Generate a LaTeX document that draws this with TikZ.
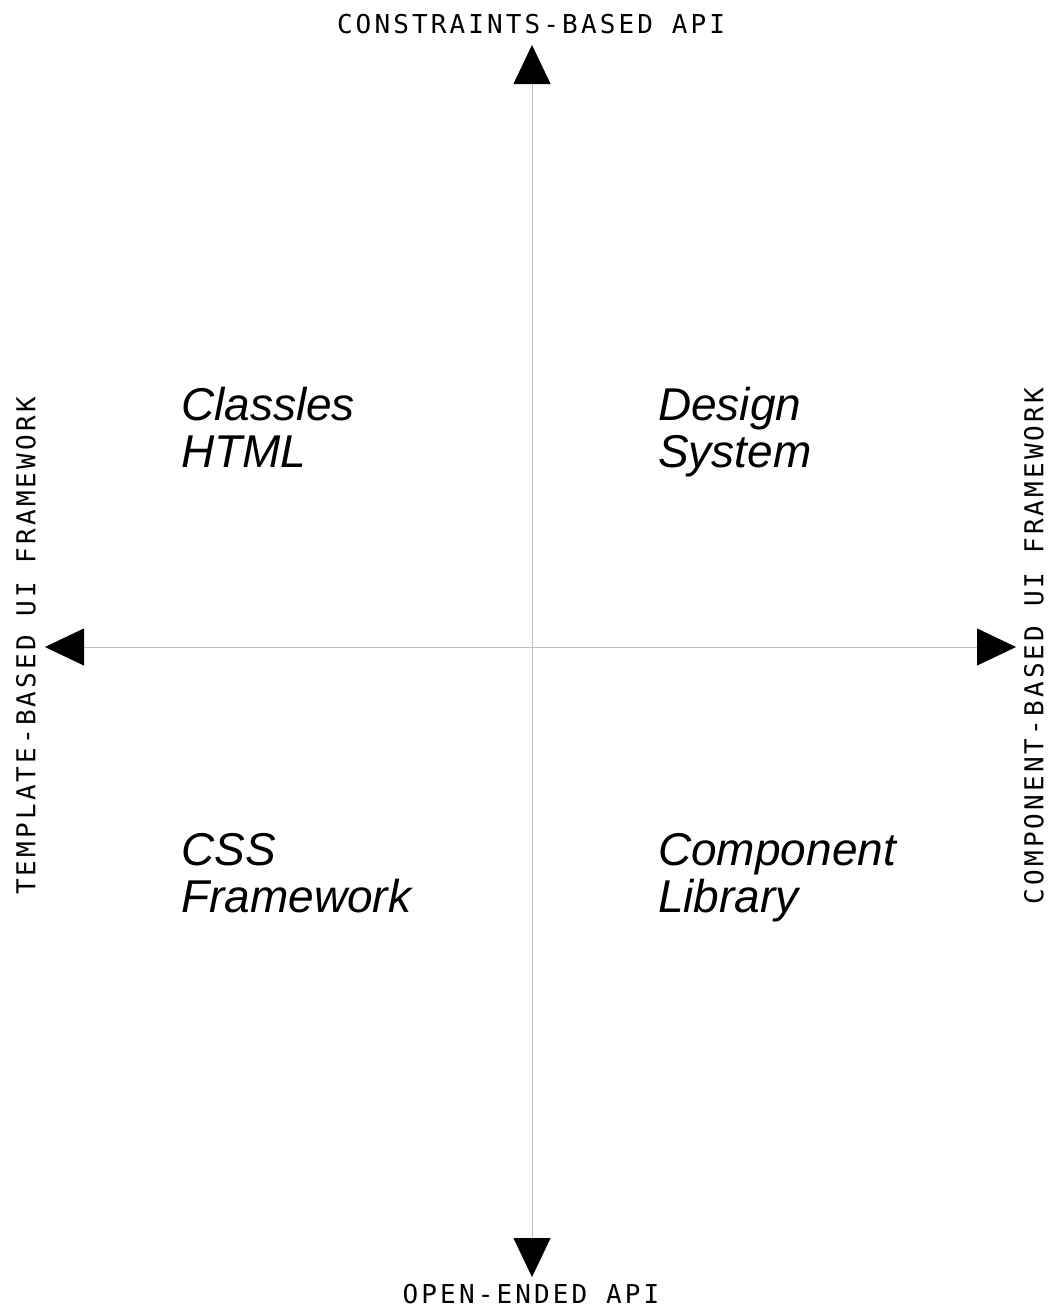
\documentclass[tikz,border=0pt]{standalone}
\usepackage{fontspec}
\usetikzlibrary{arrows.meta, positioning}
\newfontfamily\axisfont[LetterSpace=12]{DejaVu Sans Mono}
\newfontfamily\quadfont{Liberation Sans}
\definecolor{axisGray}{RGB}{190,190,190}

\begin{document}
\begin{tikzpicture}[
				x=1pt, y=-1pt,
				axislabel/.style={inner sep=0pt, font=\axisfont\fontsize{26}{30}\selectfont},
				quad/.style={anchor=base west, inner sep=0pt, align=left, font=\quadfont\itshape\fontsize{46}{47}\selectfont},
				arr/.style={{Triangle[length=39pt, width=37pt, color=black, fill=black]}-{Triangle[length=39pt, width=37pt, color=black, fill=black]}, line width=0.8pt, axisGray}
			]
				\useasboundingbox (0,0) rectangle (1055,1312);

				% ends of the two axes
				\coordinate (top) at (532,45);
				\coordinate (bottom) at (532,1277);
				\coordinate (left) at (45,647);
				\coordinate (right) at (1016,647);

				\draw[arr] (bottom) -- (top);
				\draw[arr] (left) -- (right);

				\node[axislabel] (constraints) at (531,24) {CONSTRAINTS-BASED API};
				\node[axislabel] (openended) at (531,1294) {OPEN-ENDED API};
				\node[axislabel, rotate=90] (template) at (26,646) {TEMPLATE-BASED UI FRAMEWORK};
				\node[axislabel, rotate=90] (component) at (1034,646) {COMPONENT-BASED UI FRAMEWORK};

				% base anchor sits on the last line
				\node[quad] (classless) at (181,467) {Classles\\HTML};
				\node[quad] (design) at (658,467) {Design\\System};
				\node[quad] (css) at (181,912) {CSS\\Framework};
				\node[quad] (library) at (658,912) {Component\\Library};
			\end{tikzpicture}
\end{document}
